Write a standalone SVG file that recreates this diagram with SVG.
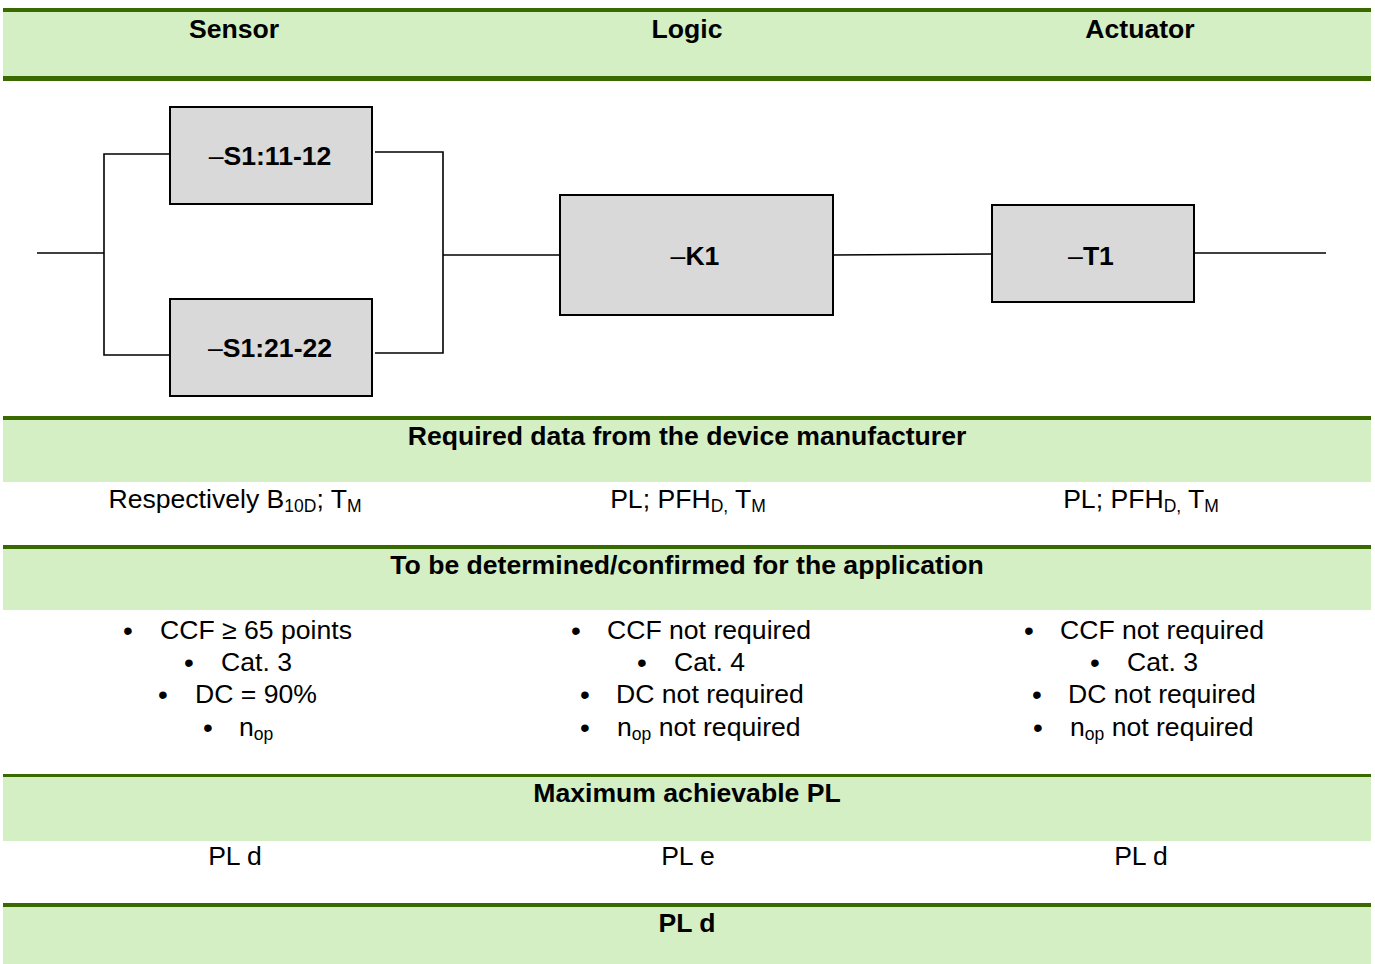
<svg xmlns="http://www.w3.org/2000/svg" width="1375" height="964" viewBox="0 0 1375 964">
  <style>
    .band { fill: #d4efc4; }
    .rule { fill: #386a00; }
    .box { fill: #d9d9d9; stroke: #000; stroke-width: 2; }
    .wire { fill: none; stroke: #000; stroke-width: 1.6; }
    text { font-family: "Liberation Sans", Arial, sans-serif; font-size: 26.6px; fill: #000; }
    .h { font-weight: bold; text-anchor: middle; }
    .c { text-anchor: middle; }
    .dash { font-weight: normal; }
    .lbl { font-weight: bold; text-anchor: middle; }
    .sub { font-size: 17.5px; }
    .bul { text-anchor: middle; font-size: 28px; }
  </style>

  <!-- header band: column titles -->
  <g id="header">
    <rect class="band" x="3" y="12" width="1368" height="64"/>
    <rect class="rule" x="3" y="8" width="1368" height="4"/>
    <rect class="rule" x="3" y="76" width="1368" height="5"/>
    <text class="h" x="234" y="38">Sensor</text>
    <text class="h" x="687" y="38">Logic</text>
    <text class="h" x="1140" y="38">Actuator</text>
  </g>

  <!-- connectors -->
  <g id="connectors">
    <path class="wire" d="M37 253 H104"/>
    <path class="wire" d="M169 154 H104 V355 H169"/>
    <path class="wire" d="M375 152 H443 V353 H375"/>
    <path class="wire" d="M443 255 H559"/>
    <path class="wire" d="M833 255 L991 254"/>
    <path class="wire" d="M1194 253 H1326"/>
  </g>

  <g id="node-s1-11-12">
    <rect class="box" x="170" y="107" width="202" height="97"/>
    <text class="lbl" x="270" y="165"><tspan class="dash">–</tspan>S1:11-12</text>
  </g>
  <g id="node-s1-21-22">
    <rect class="box" x="170" y="299" width="202" height="97"/>
    <text class="lbl" x="270" y="357"><tspan class="dash">–</tspan>S1:21-22</text>
  </g>
  <g id="node-k1">
    <rect class="box" x="560" y="195" width="273" height="120"/>
    <text class="lbl" x="695" y="265"><tspan class="dash">–</tspan>K1</text>
  </g>
  <g id="node-t1">
    <rect class="box" x="992" y="205" width="202" height="97"/>
    <text class="lbl" x="1091" y="265"><tspan class="dash">–</tspan>T1</text>
  </g>

  <!-- required data from the device manufacturer -->
  <g id="required-data">
    <rect class="band" x="3" y="420" width="1368" height="62"/>
    <rect class="rule" x="3" y="416" width="1368" height="4"/>
    <text class="h" x="687" y="445">Required data from the device manufacturer</text>
    <text class="c" x="235" y="508">Respectively B<tspan class="sub" dy="4">10D</tspan><tspan dy="-4">; T</tspan><tspan class="sub" dy="4">M</tspan></text>
    <text class="c" x="688" y="508">PL; PFH<tspan class="sub" dy="4">D,</tspan><tspan dy="-4"> T</tspan><tspan class="sub" dy="4">M</tspan></text>
    <text class="c" x="1141" y="508">PL; PFH<tspan class="sub" dy="4">D,</tspan><tspan dy="-4"> T</tspan><tspan class="sub" dy="4">M</tspan></text>
  </g>

  <!-- to be determined/confirmed for the application -->
  <g id="application">
    <rect class="band" x="3" y="549" width="1368" height="61"/>
    <rect class="rule" x="3" y="545" width="1368" height="4"/>
    <text class="h" x="687" y="574">To be determined/confirmed for the application</text>

    <text class="bul" x="128" y="640">•</text><text x="160" y="639">CCF ≥ 65 points</text>
    <text class="bul" x="189" y="672">•</text><text x="221" y="671">Cat. 3</text>
    <text class="bul" x="163" y="704">•</text><text x="195" y="703">DC = 90%</text>
    <text class="bul" x="208" y="737">•</text><text x="239" y="736">n<tspan class="sub" dy="4">op</tspan></text>

    <text class="bul" x="576" y="640">•</text><text x="607" y="639">CCF not required</text>
    <text class="bul" x="642" y="672">•</text><text x="674" y="671">Cat. 4</text>
    <text class="bul" x="585" y="704">•</text><text x="616" y="703">DC not required</text>
    <text class="bul" x="585" y="737">•</text><text x="617" y="736">n<tspan class="sub" dy="4">op</tspan><tspan dy="-4"> not required</tspan></text>

    <text class="bul" x="1029" y="640">•</text><text x="1060" y="639">CCF not required</text>
    <text class="bul" x="1095" y="672">•</text><text x="1127" y="671">Cat. 3</text>
    <text class="bul" x="1037" y="704">•</text><text x="1068" y="703">DC not required</text>
    <text class="bul" x="1038" y="737">•</text><text x="1070" y="736">n<tspan class="sub" dy="4">op</tspan><tspan dy="-4"> not required</tspan></text>
  </g>

  <!-- maximum achievable PL per channel -->
  <g id="max-pl">
    <rect class="band" x="3" y="777" width="1368" height="64"/>
    <rect class="rule" x="3" y="774" width="1368" height="3"/>
    <text class="h" x="687" y="802">Maximum achievable PL</text>
    <text class="c" x="235" y="865">PL d</text>
    <text class="c" x="688" y="865">PL e</text>
    <text class="c" x="1141" y="865">PL d</text>
  </g>

  <!-- resulting PL -->
  <g id="result-pl">
    <rect class="band" x="3" y="907" width="1368" height="57"/>
    <rect class="rule" x="3" y="903" width="1368" height="4"/>
    <text class="h" x="687" y="932">PL d</text>
  </g>
</svg>
